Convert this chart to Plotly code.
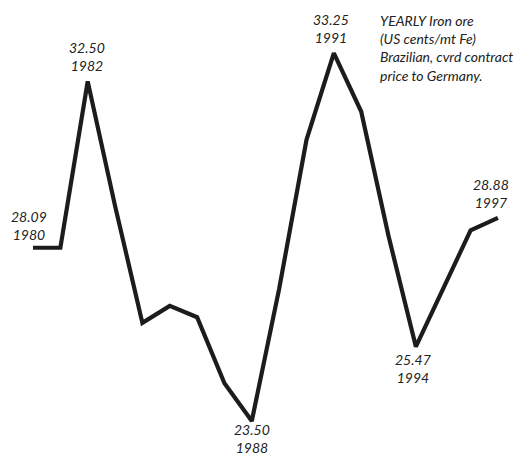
import plotly.graph_objects as go

years = list(range(1980, 1998))
prices = [28.09, 28.09, 32.50, 29.20, 26.10, 26.55, 26.25, 24.50, 23.50,
          27.00, 30.95, 33.25, 31.70, 28.40, 25.47, 27.00, 28.55, 28.88]

label_years = [1980, 1982, 1988, 1991, 1994, 1997]
label_values = ["28.09", "32.50", "23.50", "33.25", "25.47", "28.88"]
label_shifts = [(-4, 22), (-1, 25), (0, -17), (-3, 25), (-3, -22), (-7, 24)]

title_lines = ["YEARLY Iron ore", "(US cents/mt Fe)",
               "Brazilian, cvrd contract", "price to Germany."]

FONT = "Lato, 'Open Sans', sans-serif"

fig = go.Figure()
fig.add_trace(go.Scatter(
    x=years, y=prices, mode="lines",
    line=dict(color="#1c1c1c", width=4.2),
    hoverinfo="skip", showlegend=False,
))

for yr, val, (dx, dy) in zip(label_years, label_values, label_shifts):
    fig.add_annotation(
        x=yr, y=prices[years.index(yr)], xref="x", yref="y",
        text=f"<i>{val}<br>{yr}</i>", showarrow=False,
        xanchor="center", yanchor="middle", xshift=dx, yshift=dy,
        font=dict(family=FONT, size=14, color="#222222"),
    )

fig.add_annotation(
    x=378 / 515, y=1 - 10 / 455, xref="paper", yref="paper",
    text="<i>" + "<br>".join(title_lines) + "</i>", showarrow=False,
    xanchor="left", yanchor="top", align="left",
    font=dict(family=FONT, size=14, color="#222222"),
)

fig.update_xaxes(visible=False, range=[1978.793, 1997.624])
fig.update_yaxes(visible=False, range=[22.599, 34.655])
fig.update_layout(
    width=515, height=455,
    margin=dict(l=0, r=0, t=0, b=0),
    paper_bgcolor="white", plot_bgcolor="white",
    hovermode=False,
)

fig.write_html(
    "out.html",
    config={"displayModeBar": False, "staticPlot": True},
    post_script="document.body.style.margin='0';document.body.style.overflow='hidden';",
)
